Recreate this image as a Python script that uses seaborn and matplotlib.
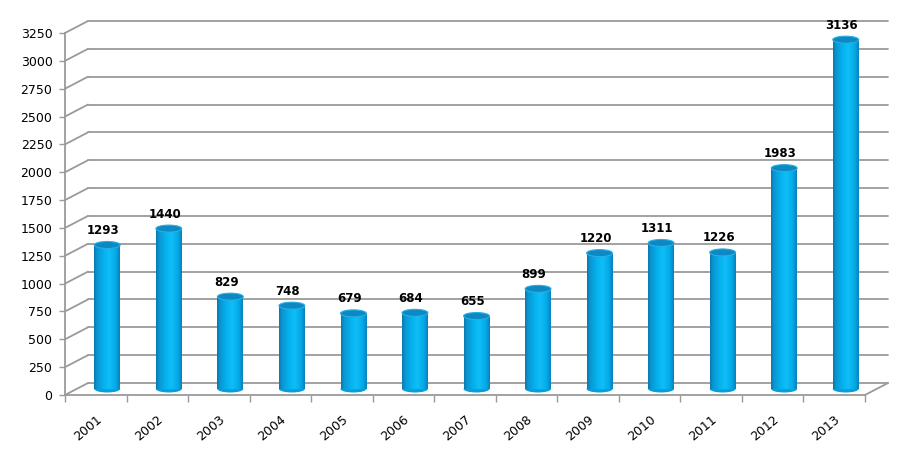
import numpy as np
import pandas as pd
import matplotlib
matplotlib.use("Agg")
import matplotlib.pyplot as plt
import seaborn as sns
from matplotlib import transforms
from matplotlib.lines import Line2D
from matplotlib.patches import Ellipse
from matplotlib.colors import LinearSegmentedColormap

years = ['2001', '2002', '2003', '2004', '2005', '2006', '2007',
         '2008', '2009', '2010', '2011', '2012', '2013']
values = [1293, 1440, 829, 748, 679, 684, 655, 899, 1220, 1311, 1226, 1983, 3136]
y_ticks = list(range(0, 3251, 250))

sns.set_theme(style="white")
plt.rcParams['font.family'] = ['DejaVu Sans']

DPI = 100
fig = plt.figure(figsize=(9.2, 4.49), dpi=DPI)
ax = fig.add_axes([65 / 920, 54 / 449, 800 / 920, 362 / 449])

df = pd.DataFrame({'year': years, 'value': values})
sns.barplot(data=df, x='year', y='value', color='#00B0F0', width=0.42,
            saturation=1, ax=ax, zorder=3)
ax.set_xlim(-0.5, 12.5)
ax.set_ylim(0, 3250)

DX, DY = 23, 12  # depth in pixels
back = ax.transData + transforms.ScaledTranslation(DX / DPI, DY / DPI, fig.dpi_scale_trans)
mid = ax.transData + transforms.ScaledTranslation(DX / 2 / DPI, DY / 2 / DPI, fig.dpi_scale_trans)

gcol = '#9a9a9a'
for v in y_ticks:
    ax.plot([-0.5, 12.5], [v, v], transform=back, color=gcol, lw=1.3,
            clip_on=False, zorder=1)
    p0 = ax.transData.transform((-0.5, v))
    fig.add_artist(Line2D([p0[0], p0[0] + DX], [p0[1], p0[1] + DY], transform=None,
                          color=gcol, lw=1.3, zorder=1))
p0 = ax.transData.transform((12.5, 0))
fig.add_artist(Line2D([p0[0], p0[0] + DX], [p0[1], p0[1] + DY], transform=None,
                      color=gcol, lw=1.3, zorder=1))

cmap = LinearSegmentedColormap.from_list('cyl', [
    (0.0, '#0a78ad'), (0.12, '#0a96d2'), (0.4, '#05b4f0'),
    (0.6, '#10bdf7'), (0.85, '#03a8e6'), (1.0, '#0a7fb7')])
grad = np.linspace(0, 1, 256).reshape(1, -1)
eh = 7 / (362 / 3250)
bars = list(ax.patches)
for p in bars:
    x, w, h = p.get_x(), p.get_width(), p.get_height()
    p.set_transform(mid)
    p.set_facecolor('none')
    p.set_edgecolor('none')
    im = ax.imshow(grad, extent=[x, x + w, 0, h], aspect='auto', cmap=cmap,
                   zorder=3, interpolation='bilinear')
    im.set_transform(mid)
    im.set_clip_path(p)
    bot = Ellipse((x + w / 2, 0), w, eh, transform=mid, facecolor='#069fdb',
                  edgecolor='none', zorder=2.9)
    ax.add_patch(bot)
    top = Ellipse((x + w / 2, h), w, eh, transform=mid, facecolor='#0c88c2',
                  edgecolor='#2aaee4', lw=0.8, zorder=4)
    ax.add_patch(top)

ax.set_xlim(-0.5, 12.5)
ax.set_ylim(0, 3250)

for i, v in enumerate(values):
    ax.annotate(str(v), xy=(i, v), xycoords=mid, xytext=(-4, 8),
                textcoords='offset pixels', ha='center', va='bottom',
                fontsize=8.5, fontweight='bold', color='black',
                annotation_clip=False, zorder=5)

for s in ['top', 'right']:
    ax.spines[s].set_visible(False)
for s in ['left', 'bottom']:
    ax.spines[s].set_color(gcol)
    ax.spines[s].set_linewidth(1.3)
    ax.spines[s].set_zorder(2)

ax.set_yticks(y_ticks)
ax.set_yticklabels([str(t) for t in y_ticks])
ax.tick_params(axis='y', direction='out', length=4, width=1, color=gcol,
               labelsize=9, labelcolor='black', pad=5, left=True)
ax.set_xticks(range(len(years)))
ax.set_xticklabels(years, rotation=40, ha='right', rotation_mode='anchor')
ax.set_xticks(np.arange(-0.5, 12.6, 1), minor=True)
ax.tick_params(axis='x', which='major', length=0, labelsize=9,
               labelcolor='black', pad=13)
ax.tick_params(axis='x', which='minor', direction='out', length=5, width=1,
               color=gcol, bottom=True)
ax.set_xlabel('')
ax.set_ylabel('')
ax.grid(False)

fig.savefig('out.png', dpi=DPI, facecolor='white')
